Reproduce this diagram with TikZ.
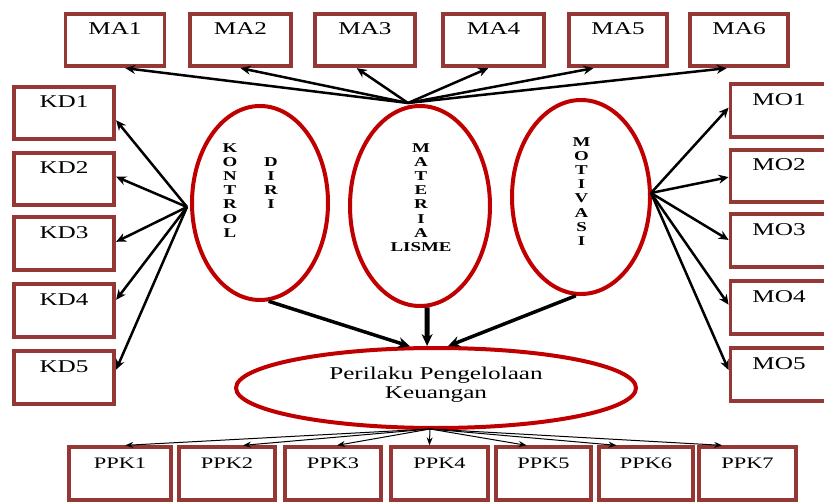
\documentclass[tikz,border=0pt]{standalone}
\usepackage{fontspec}
\setmainfont[FakeStretch=1.4]{Liberation Serif}
\usetikzlibrary{shapes.geometric,arrows.meta,calc}
\definecolor{boxred}{HTML}{953735}
\definecolor{ellred}{HTML}{C00000}
\begin{document}
\begin{tikzpicture}[x=1pt,y=-1pt,
  box/.style={draw=boxred, line width=3.8pt, fill=white, inner sep=0pt,
    minimum height=52.5pt, text height=12pt, text depth=22pt,
    font=\fontsize{18}{20}\selectfont},
  ppkbox/.style={box, font=\fontsize{16}{18}\selectfont, text height=11pt, text depth=21pt},
  ell/.style={draw=ellred, line width=4pt, ellipse, inner sep=0pt},
  vtxt/.style={font=\bfseries\fontsize{13.5}{14.2}\selectfont, align=center, inner sep=0pt, anchor=north},
  arr/.style={line width=2.5pt, -{Stealth[length=10pt,width=9pt]}},
  arrthick/.style={line width=3.5pt, -{Stealth[length=12pt,width=11pt]}},
  arrthin/.style={line width=1pt, -{Stealth[length=8pt,width=6pt]}}]
\useasboundingbox (0,0) rectangle (824,502);

% top boxes
\node[box, minimum width=99pt]  (MA1) at (115,40)   {MA1};
\node[box, minimum width=101pt] (MA2) at (240.5,40) {MA2};
\node[box, minimum width=100pt] (MA3) at (365,40)   {MA3};
\node[box, minimum width=101pt] (MA4) at (493.5,40) {MA4};
\node[box, minimum width=98.5pt](MA5) at (618,40)   {MA5};
\node[box, minimum width=98.5pt](MA6) at (739,40)   {MA6};

% left boxes
\node[box, minimum width=100.5pt] (KD1) at (64,113)   {KD1};
\node[box, minimum width=100.5pt] (KD2) at (64,179)   {KD2};
\node[box, minimum width=100.5pt] (KD3) at (64,243.5) {KD3};
\node[box, minimum width=100.5pt] (KD4) at (64,310.5) {KD4};
\node[box, minimum width=100.5pt] (KD5) at (64,377.5) {KD5};

% right boxes
\node[box, minimum width=105pt] (MO1) at (783,110.5) {\hspace*{-8pt}MO1};
\node[box, minimum width=105pt] (MO2) at (783,176)   {\hspace*{-8pt}MO2};
\node[box, minimum width=105pt] (MO3) at (783,240.5) {\hspace*{-8pt}MO3};
\node[box, minimum width=105pt] (MO4) at (783,307.5) {\hspace*{-8pt}MO4};
\node[box, minimum width=105pt] (MO5) at (783,374.5) {\hspace*{-8pt}MO5};

% bottom boxes
\node[ppkbox, minimum width=102.5pt] (PPK1) at (120,473.5)   {PPK1};
\node[ppkbox, minimum width=96.5pt]  (PPK2) at (227,473.5)   {PPK2};
\node[ppkbox, minimum width=96.5pt]  (PPK3) at (333,473.5)   {PPK3};
\node[ppkbox, minimum width=97.5pt]  (PPK4) at (439.5,473.5) {PPK4};
\node[ppkbox, minimum width=95.5pt]  (PPK5) at (543.5,473.5) {PPK5};
\node[ppkbox, minimum width=94.5pt]  (PPK6) at (646,473.5)   {PPK6};
\node[ppkbox, minimum width=97.5pt]  (PPK7) at (747.5,473.5) {PPK7};

% ellipses
\node[ell, minimum width=136pt, minimum height=194pt] (kd)  at (260,203) {};
\node[ell, minimum width=140pt, minimum height=200pt] (mat) at (420,206) {};
\node[ell, minimum width=138pt, minimum height=194pt] (mot) at (581,197) {};
\node[ell, minimum width=400pt, minimum height=80pt]  (ppk) at (436,388) {};

% ellipse texts
\node[vtxt] (kdt1) at (230,143) {K\\O\\N\\T\\R\\O\\L};
\node[vtxt] (kdt2) at (271,157) {D\\I\\R\\I};
\node[vtxt] (matt) at (421,143) {M\\A\\T\\E\\R\\I\\A\\LISME};
\node[vtxt] (mott) at (581.5,137) {M\\O\\T\\I\\V\\A\\S\\I};
\node[align=center, inner sep=0pt, font=\fontsize{18}{19}\selectfont] (ppkt) at (436,385)
  {Perilaku Pengelolaan\\Keuangan};

% sources
\coordinate (masrc) at (408,103);
\coordinate (kdsrc) at (187,207);
\coordinate (mosrc) at (651,193);
\coordinate (ppksrc) at (430,429);

% MA arrows
\draw[arr] (masrc) -- ($(MA1.south west)!0.60!(MA1.south east)$);
\draw[arr] (masrc) -- ($(MA2.south west)!0.50!(MA2.south east)$);
\draw[arr] (masrc) -- ($(MA3.south west)!0.42!(MA3.south east)$);
\draw[arr] (masrc) -- ($(MA4.south west)!0.45!(MA4.south east)$);
\draw[arr] (masrc) -- ($(MA5.south west)!0.26!(MA5.south east)$);
\draw[arr] (masrc) -- ($(MA6.south west)!0.38!(MA6.south east)$);

% KD arrows
\draw[arr] (kdsrc) -- ($(KD1.north east)!0.63!(KD1.south east)$);
\draw[arr] (kdsrc) -- ($(KD2.north east)!0.46!(KD2.south east)$);
\draw[arr] (kdsrc) -- ($(KD3.north east)!0.47!(KD3.south east)$);
\draw[arr] (kdsrc) -- ($(KD4.north east)!0.31!(KD4.south east)$);
\draw[arr] (kdsrc) -- ($(KD5.north east)!0.36!(KD5.south east)$);

% MO arrows
\draw[arr] (mosrc) -- ($(MO1.north west)!0.45!(MO1.south west)$);
\draw[arr] (mosrc) -- ($(MO2.north west)!0.52!(MO2.south west)$);
\draw[arr] (mosrc) -- ($(MO3.north west)!0.49!(MO3.south west)$);
\draw[arr] (mosrc) -- ($(MO4.north west)!0.45!(MO4.south west)$);
\draw[arr] (mosrc) -- ($(MO5.north west)!0.42!(MO5.south west)$);

% into central ellipse
\draw[arrthick] (kd.-85) -- (ppk.122);
\draw[arrthick, line width=5pt] (mat.-86) -- (ppk.102);
\draw[arrthick] (mot.-93) -- (ppk.74);

% PPK arrows
\draw[arrthin] (ppksrc) -- ($(PPK1.north west)!0.55!(PPK1.north east)$);
\draw[arrthin] (ppksrc) -- ($(PPK2.north west)!0.66!(PPK2.north east)$);
\draw[arrthin] (ppksrc) -- ($(PPK3.north west)!0.54!(PPK3.north east)$);
\draw[arrthin] (ppksrc) -- ($(PPK4.north west)!0.40!(PPK4.north east)$);
\draw[arrthin] (ppksrc) -- ($(PPK5.north west)!0.33!(PPK5.north east)$);
\draw[arrthin] (ppksrc) -- ($(PPK6.north west)!0.20!(PPK6.north east)$);
\draw[arrthin] (ppksrc) -- ($(PPK7.north west)!0.25!(PPK7.north east)$);
\end{tikzpicture}
\end{document}
